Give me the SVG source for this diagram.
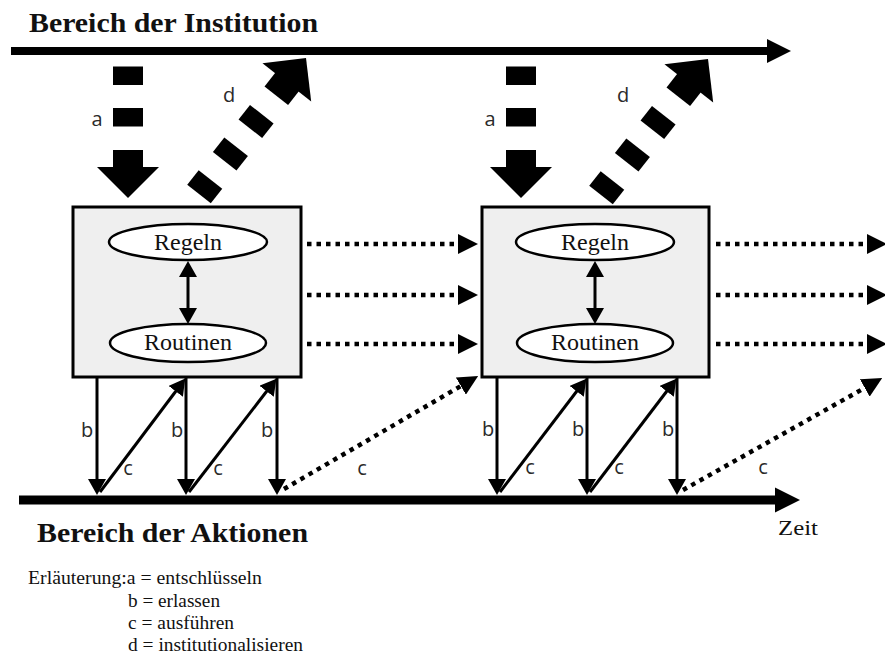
<svg xmlns="http://www.w3.org/2000/svg" width="885" height="657" viewBox="0 0 885 657">
  <style>
    .title { font-family: "Liberation Serif", "Times New Roman", serif; font-weight: bold; font-size: 27px; fill: #111; }
    .node-text { font-family: "Liberation Serif", "Times New Roman", serif; font-size: 24px; fill: #111; text-anchor: middle; }
    .legend { font-family: "Liberation Serif", "Times New Roman", serif; font-size: 18px; fill: #111; }
    .lbl { font-family: "Open Sans", "DejaVu Sans", sans-serif; font-size: 20px; fill: #2a2a2a; text-anchor: middle; }
    .box { fill: #efefef; stroke: #000; stroke-width: 3; }
    .oval { fill: #fff; stroke: #000; stroke-width: 2.5; }
    .solid { fill: none; stroke: #000; stroke-width: 3; }
    .dotted { fill: none; stroke: #000; stroke-width: 4.5; stroke-dasharray: 4.5 5; }
    .axis { fill: none; stroke: #000; }
    .block { fill: #000; }
  </style>
  <defs>
    <marker id="head" markerUnits="userSpaceOnUse" viewBox="0 0 16 18" refX="8" refY="9" markerWidth="16" markerHeight="18" orient="auto-start-reverse">
      <path d="M0,0 L16,9 L0,18 z" fill="#000"/>
    </marker>
    <marker id="dothead" markerUnits="userSpaceOnUse" viewBox="0 0 20 20" refX="10" refY="10" markerWidth="20" markerHeight="20" orient="auto">
      <path d="M0,0 L20,10 L0,20 z" fill="#000"/>
    </marker>
    <!-- dashed block arrow pointing up, tip at origin -->
    <g id="blockA">
      <polygon points="0,0 31,31 -31,31"/>
      <rect x="-15" y="30" width="30" height="18"/>
      <rect x="-15" y="71.5" width="30" height="18.5"/>
      <rect x="-15" y="113" width="30" height="18.5"/>
    </g>
    <g id="blockD">
      <use href="#blockA"/>
      <rect x="-15" y="154.5" width="30" height="18.5"/>
    </g>
  </defs>

  <!-- headings -->
  <text class="title" x="29" y="32" textLength="289" lengthAdjust="spacingAndGlyphs">Bereich der Institution</text>
  <text class="title" x="37" y="542" textLength="271" lengthAdjust="spacingAndGlyphs">Bereich der Aktionen</text>
  <text x="778" y="535" font-family="Liberation Serif, Times New Roman, serif" font-size="21" fill="#111" textLength="40" lengthAdjust="spacingAndGlyphs">Zeit</text>

  <!-- nodes -->
  <g id="phase1">
    <rect class="box" x="73" y="207" width="228" height="170"/>
  </g>
  <g id="regeln1">
    <ellipse class="oval" cx="188" cy="242" rx="79" ry="18"/>
    <text class="node-text" x="188" y="250">Regeln</text>
  </g>
  <g id="routinen1">
    <ellipse class="oval" cx="188" cy="343" rx="78" ry="19"/>
    <text class="node-text" x="188" y="350">Routinen</text>
  </g>
  <g id="phase2">
    <rect class="box" x="482" y="207" width="227" height="170"/>
  </g>
  <g id="regeln2">
    <ellipse class="oval" cx="595" cy="242" rx="79" ry="18"/>
    <text class="node-text" x="595" y="250">Regeln</text>
  </g>
  <g id="routinen2">
    <ellipse class="oval" cx="595" cy="343" rx="78" ry="19"/>
    <text class="node-text" x="595" y="350">Routinen</text>
  </g>

  <!-- connectors -->
  <g id="connectors">
    <!-- institution axis and action/time axis -->
    <line class="axis" x1="11" y1="51" x2="768" y2="51" stroke-width="8"/>
    <polygon class="block" points="767,39 791,51 767,63"/>
    <line class="axis" x1="19" y1="500" x2="776" y2="500" stroke-width="9"/>
    <polygon class="block" points="775,487.5 800,500 775,512.5"/>

    <!-- a: entschlüsseln, d: institutionalisieren -->
    <use class="block" href="#blockA" transform="translate(128,198) rotate(180)"/>
    <use class="block" href="#blockD" transform="translate(306,58) rotate(38.2)"/>
    <use class="block" href="#blockA" transform="translate(521,198) rotate(180)"/>
    <use class="block" href="#blockD" transform="translate(708,59) rotate(38.2)"/>

    <!-- Regeln <-> Routinen -->
    <line class="solid" x1="188" y1="269" x2="188" y2="316" marker-start="url(#head)" marker-end="url(#head)"/>
    <line class="solid" x1="595" y1="269" x2="595" y2="316" marker-start="url(#head)" marker-end="url(#head)"/>

    <!-- carry-over to the next phase -->
    <line class="dotted" x1="307" y1="244" x2="468" y2="244" marker-end="url(#dothead)"/>
    <line class="dotted" x1="307" y1="295" x2="468" y2="295" marker-end="url(#dothead)"/>
    <line class="dotted" x1="307" y1="344" x2="468" y2="344" marker-end="url(#dothead)"/>
    <line class="dotted" x1="716" y1="244" x2="877" y2="244" marker-end="url(#dothead)"/>
    <line class="dotted" x1="716" y1="295" x2="877" y2="295" marker-end="url(#dothead)"/>
    <line class="dotted" x1="716" y1="344" x2="877" y2="344" marker-end="url(#dothead)"/>

    <!-- b: erlassen -->
    <line class="solid" x1="97" y1="377" x2="97" y2="487" marker-end="url(#head)"/>
    <line class="solid" x1="186" y1="377" x2="186" y2="487" marker-end="url(#head)"/>
    <line class="solid" x1="277" y1="377" x2="277" y2="487" marker-end="url(#head)"/>
    <line class="solid" x1="497" y1="377" x2="497" y2="487" marker-end="url(#head)"/>
    <line class="solid" x1="587" y1="377" x2="587" y2="487" marker-end="url(#head)"/>
    <line class="solid" x1="677" y1="377" x2="677" y2="487" marker-end="url(#head)"/>

    <!-- c: ausführen -->
    <line class="solid" x1="100" y1="492" x2="180.5" y2="385" marker-end="url(#head)"/>
    <line class="solid" x1="189" y1="492" x2="271.5" y2="385" marker-end="url(#head)"/>
    <line class="solid" x1="500" y1="492" x2="581.5" y2="385" marker-end="url(#head)"/>
    <line class="solid" x1="590" y1="492" x2="671.5" y2="385" marker-end="url(#head)"/>
    <line class="dotted" x1="284" y1="489" x2="469.5" y2="381" marker-end="url(#dothead)"/>
    <line class="dotted" x1="683" y1="490" x2="873.5" y2="383" marker-end="url(#dothead)"/>
  </g>

  <!-- connector labels -->
  <g id="labels">
    <text class="lbl" x="97" y="126">a</text>
    <text class="lbl" x="229" y="102">d</text>
    <text class="lbl" x="490" y="126">a</text>
    <text class="lbl" x="623" y="102">d</text>
    <text class="lbl" x="87" y="437">b</text>
    <text class="lbl" x="177" y="437">b</text>
    <text class="lbl" x="267" y="437">b</text>
    <text class="lbl" x="488" y="436">b</text>
    <text class="lbl" x="578" y="436">b</text>
    <text class="lbl" x="668" y="436">b</text>
    <text class="lbl" x="128" y="475">c</text>
    <text class="lbl" x="218" y="475">c</text>
    <text class="lbl" x="362" y="475">c</text>
    <text class="lbl" x="530" y="474">c</text>
    <text class="lbl" x="619" y="474">c</text>
    <text class="lbl" x="763" y="474">c</text>
  </g>

  <!-- legend -->
  <g id="legend">
    <text class="legend" x="28" y="584" textLength="234" lengthAdjust="spacingAndGlyphs">Erläuterung:a = entschlüsseln</text>
    <text class="legend" x="128" y="607" textLength="92" lengthAdjust="spacingAndGlyphs">b = erlassen</text>
    <text class="legend" x="128" y="629" textLength="106" lengthAdjust="spacingAndGlyphs">c = ausführen</text>
    <text class="legend" x="128" y="651" textLength="175" lengthAdjust="spacingAndGlyphs">d = institutionalisieren</text>
  </g>
</svg>
